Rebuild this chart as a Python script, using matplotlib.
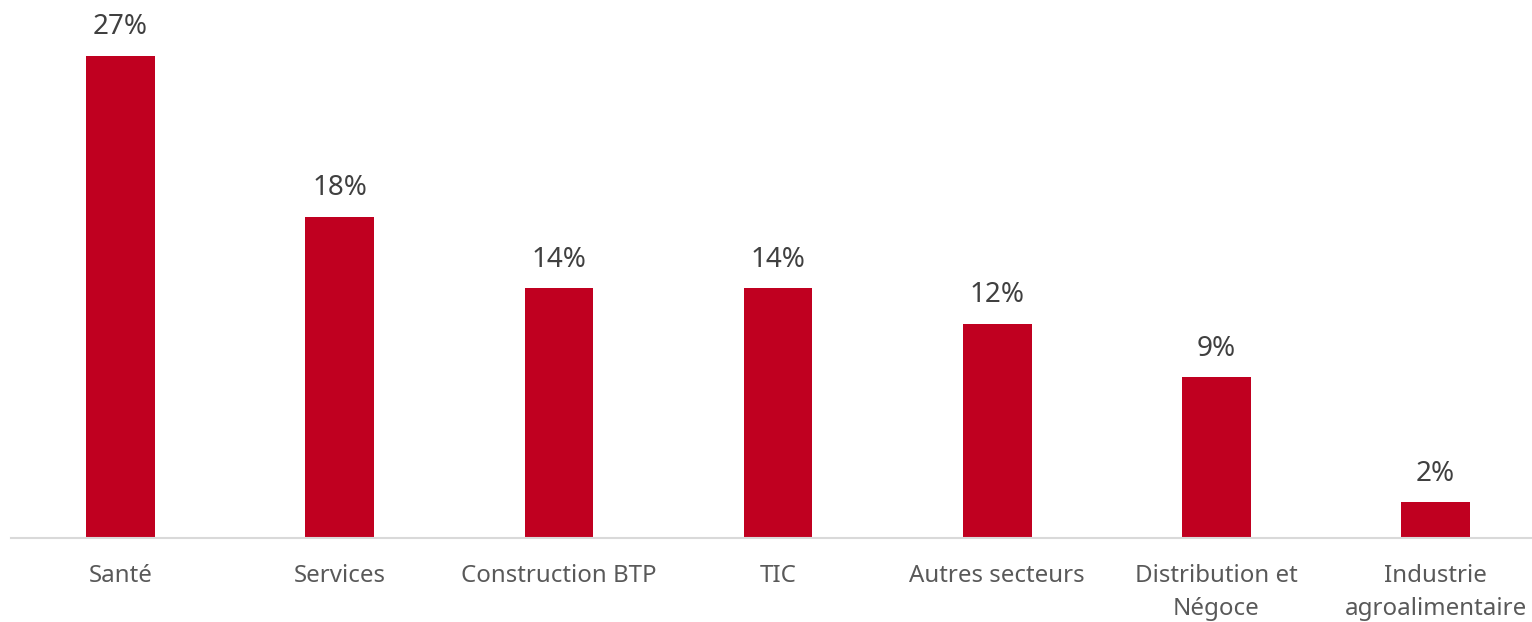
import matplotlib
matplotlib.use("Agg")
import matplotlib.pyplot as plt

categories = ["Santé", "Services", "Construction BTP", "TIC", "Autres secteurs",
              "Distribution et\nNégoce", "Industrie\nagroalimentaire"]
values = [27, 18, 14, 14, 12, 9, 2]

plt.rcParams['font.family'] = ['Noto Sans', 'DejaVu Sans']

W, H = 1532, 622
fig = plt.figure(figsize=(W / 100, H / 100), dpi=100)
base_y = 538
ax = fig.add_axes([11 / W, (H - base_y) / H, 1 - 11 / W, base_y / H])

x = list(range(len(categories)))
ax.bar(x, values, width=0.313, color="#C00020")

for xi, v in zip(x, values):
    ax.annotate(f"{v}%", (xi, v), xytext=(0, 10.5), textcoords="offset points",
                ha="center", va="bottom", fontsize=20, color="#404040")

ax.set_xlim(-0.5, 6.44)
ax.set_ylim(0, 30.14)
ax.set_xticks(x)
ax.set_xticklabels(categories, fontsize=17.3, color="#595959", linespacing=1.5)
ax.tick_params(axis="x", length=0, pad=19)
ax.set_yticks([])
for s in ["top", "right", "left"]:
    ax.spines[s].set_visible(False)
ax.spines["bottom"].set_color("#D9D9D9")
ax.spines["bottom"].set_linewidth(1.5)

fig.savefig("out.png", dpi=100)
